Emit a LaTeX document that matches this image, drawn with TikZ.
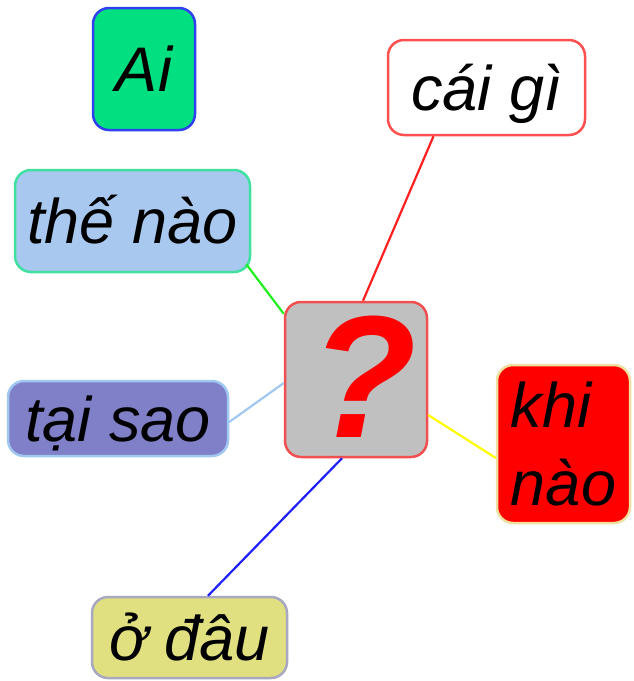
\documentclass[tikz,border=0pt]{standalone}
\usepackage{fontspec}
\setmainfont{Liberation Sans}
\definecolor{aifill}{RGB}{0,224,128}
\definecolor{aiborder}{RGB}{48,64,240}
\definecolor{cgborder}{RGB}{255,80,80}
\definecolor{tnfill}{RGB}{168,200,240}
\definecolor{tnborder}{RGB}{64,224,160}
\definecolor{qfill}{RGB}{192,192,192}
\definecolor{qborder}{RGB}{240,80,80}
\definecolor{knborder}{RGB}{240,224,160}
\definecolor{tsfill}{RGB}{128,128,200}
\definecolor{tsborder}{RGB}{160,200,240}
\definecolor{dfill}{RGB}{224,224,128}
\definecolor{dborder}{RGB}{168,168,192}
\definecolor{lred}{RGB}{255,32,32}
\definecolor{lgreen}{RGB}{32,240,32}
\definecolor{lblue}{RGB}{160,200,240}
\definecolor{lyellow}{RGB}{255,255,0}
\definecolor{ldblue}{RGB}{32,32,255}
\tikzset{
  boxbase/.style={draw, rounded corners=16pt, line width=2.5pt, inner sep=0pt,
    font=\fontsize{63}{78}\selectfont\itshape},
  box/.style={boxbase, text height=45pt, text depth=0pt},
  conn/.style={line width=2.2pt},
  qmark/.style={inner sep=0pt, text=red, font=\fontsize{174}{174}\selectfont\bfseries\itshape,
    text height=127pt, text depth=0pt}
}
\begin{document}
\begin{tikzpicture}[x=1pt,y=-1pt]
\useasboundingbox (0,0) rectangle (633,681);
\node[box, fill=aifill, draw=aiborder, minimum width=102pt, minimum height=122pt] (ai) at (144,69) {Ai};
\node[box, fill=white, draw=cgborder, minimum width=197pt, minimum height=95pt] (cg) at (486.5,87.5) {cái gì};
\node[box, fill=tnfill, draw=tnborder, minimum width=235pt, minimum height=102pt] (tn) at (132.5,221) {thế nào};
\node[box, fill=qfill, draw=qborder, minimum width=142pt, minimum height=155pt] (q) at (356,379.5) {};
\node[qmark] (qm) at ([xshift=8pt,yshift=6pt]q.center) {?};
\node[boxbase, fill=red, draw=knborder, minimum width=133pt, minimum height=158pt, align=left] (kn) at (563.5,444) {khi\\nào};
\node[box, fill=tsfill, draw=tsborder, minimum width=220pt, minimum height=75pt] (ts) at (118,418.5) {tại sao};
\node[box, fill=dfill, draw=dborder, minimum width=195pt, minimum height=81pt] (d) at (189.5,637.5) {ở đâu};
\draw[conn, lred] ([xshift=-53pt]cg.south) -- ([xshift=7pt]q.north);
\draw[conn, lgreen] ([xshift=-5pt,yshift=9pt]tn.south east) -- ([yshift=-13pt]q.north west);
\draw[conn, lblue] ([yshift=-3.5pt]ts.east) -- ([yshift=-3.5pt]q.west);
\draw[conn, lyellow] ([yshift=-14pt]kn.west) -- ([yshift=-35.5pt]q.east);
\draw[conn, ldblue] ([xshift=18.5pt]d.north) -- ([xshift=-14pt]q.south);
\end{tikzpicture}
\end{document}
